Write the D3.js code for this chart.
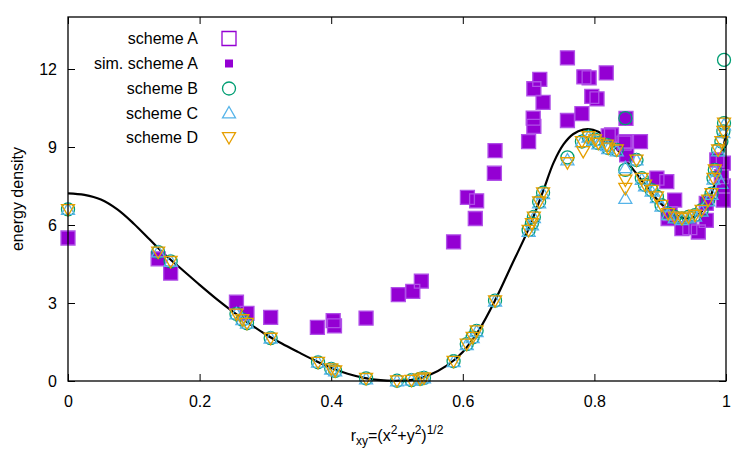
<!DOCTYPE html>
<html>
<head>
<meta charset="utf-8">
<script src="https://cdn.jsdelivr.net/npm/d3@7"></script>
<style>
  body { margin: 0; background: #fff; }
  svg { display: block; }
  text { font-family: "Liberation Sans", Arial, sans-serif; fill: #000; }
</style>
</head>
<body>
<svg id="chart" width="750" height="450"></svg>
<script>
// reference curve
var curveX = [0, 0.025, 0.05, 0.075, 0.1, 0.125, 0.15, 0.175, 0.2, 0.225, 0.25, 0.275, 0.3, 0.325, 0.35,
    0.375, 0.4, 0.425, 0.45, 0.475, 0.5, 0.525, 0.55, 0.575, 0.6, 0.625, 0.65, 0.675, 0.7, 0.722, 0.738,
    0.753, 0.768, 0.783, 0.798, 0.814, 0.829, 0.841, 0.86, 0.88, 0.9, 0.92, 0.94, 0.96, 0.975, 0.99, 1.0];
var curveY = [7.22, 7.16, 6.98, 6.6, 6.05, 5.42, 4.8, 4.25, 3.7, 3.17, 2.68, 2.22, 1.8, 1.44, 1.11,
    0.79, 0.5, 0.28, 0.12, 0.03, 0.01, 0.05, 0.24, 0.58, 1.12, 1.98, 3.15, 4.5, 5.85, 7.3, 8.4,
    9.1, 9.5, 9.67, 9.66, 9.47, 9.08, 8.7, 8.1, 7.45, 6.85, 6.45, 6.25, 6.45, 7.0, 8.3, 9.5];

var simSchemeA = [[0, 5.5], [0.137, 4.7], [0.156, 4.15], [0.256, 3.03], [0.272, 2.6], [0.308, 2.45],
    [0.379, 2.06], [0.403, 2.32], [0.405, 2.12], [0.453, 2.42], [0.502, 3.32], [0.524, 3.45], [0.537, 3.84],
    [0.586, 5.35], [0.607, 7.06], [0.619, 6.25], [0.621, 6.93], [0.648, 7.99], [0.649, 8.86], [0.7, 9.21],
    [0.707, 10.11], [0.708, 9.79], [0.708, 11.24], [0.717, 11.6], [0.722, 10.72], [0.759, 12.43], [0.759, 10.02],
    [0.781, 10.28], [0.784, 11.7], [0.792, 11.66], [0.796, 10.95], [0.804, 10.85], [0.818, 11.85], [0.821, 9.43],
    [0.826, 9.47], [0.845, 9.15], [0.847, 9.21], [0.848, 10.1], [0.849, 8.7], [0.87, 9.21], [0.895, 7.8],
    [0.91, 7.67], [0.912, 6.25], [0.915, 6.44], [0.922, 6.96], [0.933, 5.86], [0.945, 5.9], [0.958, 5.73],
    [0.97, 6.18], [0.97, 6.83], [0.986, 8.5], [0.993, 7.86], [0.996, 8.38], [0.996, 6.96], [0.996, 7.5]];

var schemeA = [[0, 5.5], [0.137, 4.7], [0.156, 4.15], [0.256, 3.03], [0.272, 2.6], [0.308, 2.45],
    [0.379, 2.06], [0.403, 2.32], [0.405, 2.12], [0.453, 2.42], [0.502, 3.32], [0.524, 3.45], [0.537, 3.84],
    [0.586, 5.35], [0.607, 7.06], [0.619, 6.25], [0.621, 6.93], [0.648, 7.99], [0.649, 8.86], [0.7, 9.21],
    [0.707, 10.11], [0.708, 9.79], [0.708, 11.24], [0.717, 11.6], [0.722, 10.72], [0.759, 12.43], [0.759, 10.02],
    [0.781, 10.28], [0.784, 11.7], [0.792, 11.66], [0.796, 10.95], [0.804, 10.85], [0.818, 11.85], [0.821, 9.43],
    [0.826, 9.47], [0.845, 9.15], [0.847, 9.21], [0.848, 10.1], [0.849, 8.7], [0.87, 9.21], [0.895, 7.8],
    [0.91, 7.67], [0.912, 6.25], [0.915, 6.44], [0.922, 6.96], [0.933, 5.86], [0.945, 5.9], [0.958, 5.73],
    [0.97, 6.18], [0.97, 6.83], [0.986, 8.5], [0.993, 7.86], [0.996, 8.38], [0.996, 6.96], [0.996, 7.5]];

var schemeB = [[0, 6.6], [0.137, 4.96], [0.156, 4.6], [0.256, 2.58], [0.265, 2.36], [0.272, 2.22], [0.308, 1.65],
    [0.38, 0.72], [0.4, 0.47], [0.406, 0.39], [0.453, 0.1], [0.5, 0.01], [0.522, 0.03], [0.535, 0.08], [0.541, 0.12],
    [0.586, 0.76], [0.606, 1.42], [0.615, 1.68], [0.621, 1.93], [0.649, 3.09], [0.7, 5.8], [0.705, 6.06],
    [0.708, 6.31], [0.716, 6.89], [0.722, 7.24], [0.759, 8.6], [0.781, 9.21], [0.791, 9.4], [0.801, 9.28],
    [0.806, 9.15], [0.819, 9.08], [0.821, 8.96], [0.834, 8.89], [0.847, 10.11], [0.847, 8.12], [0.864, 8.5],
    [0.872, 7.8], [0.877, 7.54], [0.887, 7.34], [0.895, 7.09], [0.902, 6.76], [0.912, 6.44], [0.922, 6.31],
    [0.933, 6.25], [0.943, 6.31], [0.953, 6.38], [0.963, 6.57], [0.973, 6.96], [0.978, 7.21], [0.981, 7.8],
    [0.983, 8.12], [0.988, 8.89], [0.993, 9.21], [0.996, 9.6], [0.997, 9.92], [0.997, 12.35]];

var schemeC = [[0, 6.6], [0.137, 4.96], [0.156, 4.6], [0.256, 2.58], [0.265, 2.36], [0.272, 2.22], [0.308, 1.65],
    [0.38, 0.72], [0.4, 0.45], [0.406, 0.39], [0.453, 0.08], [0.5, 0.0], [0.522, 0.03], [0.535, 0.08], [0.541, 0.12],
    [0.586, 0.74], [0.606, 1.4], [0.615, 1.66], [0.621, 1.9], [0.649, 3.07], [0.7, 5.75], [0.705, 6.0],
    [0.708, 6.28], [0.716, 6.85], [0.722, 7.2], [0.759, 8.5], [0.781, 9.2], [0.791, 9.38], [0.801, 9.25],
    [0.806, 9.12], [0.819, 9.05], [0.821, 8.93], [0.834, 8.85], [0.847, 7.02], [0.847, 8.2], [0.864, 8.5],
    [0.872, 7.75], [0.877, 7.5], [0.887, 7.3], [0.895, 7.05], [0.902, 6.72], [0.912, 6.4], [0.922, 6.27],
    [0.933, 6.2], [0.943, 6.27], [0.953, 6.34], [0.963, 6.53], [0.973, 6.92], [0.978, 7.17], [0.981, 7.76],
    [0.983, 8.08], [0.988, 8.85], [0.993, 7.6], [0.996, 9.55], [0.997, 9.85]];

var schemeD = [[0, 6.6], [0.137, 4.96], [0.156, 4.6], [0.256, 2.58], [0.265, 2.36], [0.272, 2.22], [0.308, 1.65],
    [0.38, 0.72], [0.4, 0.47], [0.406, 0.39], [0.453, 0.1], [0.5, 0.01], [0.522, 0.03], [0.535, 0.08], [0.541, 0.12],
    [0.586, 0.76], [0.606, 1.42], [0.615, 1.68], [0.621, 1.93], [0.649, 3.09], [0.7, 5.8], [0.705, 6.06],
    [0.708, 6.31], [0.716, 6.89], [0.722, 7.24], [0.759, 8.4], [0.781, 9.21], [0.783, 8.83], [0.791, 9.4],
    [0.801, 9.28], [0.806, 9.15], [0.819, 9.08], [0.821, 8.96], [0.834, 8.89], [0.847, 7.41], [0.847, 7.73],
    [0.864, 8.5], [0.872, 7.8], [0.877, 7.54], [0.887, 7.34], [0.895, 7.09], [0.902, 6.76], [0.912, 6.44],
    [0.922, 6.31], [0.933, 6.25], [0.943, 6.31], [0.953, 6.38], [0.963, 6.57], [0.973, 6.96], [0.978, 7.21],
    [0.981, 7.8], [0.983, 8.12], [0.988, 8.89], [0.993, 9.21], [0.996, 9.6], [0.997, 9.92]];

var xTicks = [0, 0.2, 0.4, 0.6, 0.8, 1];
var yTicks = [0, 3, 6, 9, 12];
var legendLabels = ["scheme A", "sim. scheme A", "scheme B", "scheme C", "scheme D"];

var purple = "#9400d3", green = "#009e73", blue = "#56b4e9", orange = "#e69f00";

var margin = { top: 17, right: 24, bottom: 69, left: 68 },
    width = 750 - margin.left - margin.right,
    height = 450 - margin.top - margin.bottom;

var svg = d3.select("#chart");
var g = svg.append("g").attr("transform", "translate(" + margin.left + "," + margin.top + ")");

var x = d3.scaleLinear().domain([0, 1]).range([0, width]);
var y = d3.scaleLinear().domain([0, 14]).range([height, 0]);

// marker shapes
function squarePath(s) {
    var h = s / 2;
    return "M" + (-h) + "," + (-h) + "H" + h + "V" + h + "H" + (-h) + "Z";
}
function triUp(s) {
    var h = s / 2;
    return "M0," + (-h) + "L" + h + "," + (h * 0.75) + "L" + (-h) + "," + (h * 0.75) + "Z";
}
function triDown(s) {
    var h = s / 2;
    return "M0," + h + "L" + h + "," + (-h * 0.75) + "L" + (-h) + "," + (-h * 0.75) + "Z";
}
function circlePath(s) {
    var r = s / 2;
    return "M" + r + ",0A" + r + "," + r + " 0 1,1 " + (-r) + ",0A" + r + "," + r + " 0 1,1 " + r + ",0Z";
}

// axes, gnuplot style: inward ticks on all four sides
var tickLen = 7;
g.append("g")
    .attr("transform", "translate(0," + height + ")")
    .call(d3.axisBottom(x).tickValues(xTicks).tickSize(-tickLen).tickPadding(15)
        .tickFormat(function(d) { return d === 0 || d === 1 ? d : d3.format(".1f")(d); }))
    .call(function(a) { a.select(".domain").remove(); a.selectAll("text").style("font-size", "16px"); });
g.append("g")
    .call(d3.axisTop(x).tickValues(xTicks).tickSize(-tickLen).tickFormat(""))
    .call(function(a) { a.select(".domain").remove(); });
g.append("g")
    .call(d3.axisLeft(y).tickValues(yTicks).tickSize(-tickLen).tickPadding(11))
    .call(function(a) { a.select(".domain").remove(); a.selectAll("text").style("font-size", "16px"); });
g.append("g")
    .attr("transform", "translate(" + width + ",0)")
    .call(d3.axisRight(y).tickValues(yTicks).tickSize(-tickLen).tickFormat(""))
    .call(function(a) { a.select(".domain").remove(); });
g.selectAll(".tick line").attr("stroke", "#000").attr("stroke-width", 1);

// curve
var line = d3.line()
    .x(function(d) { return x(d[0]); })
    .y(function(d) { return y(d[1]); })
    .curve(d3.curveCatmullRom);
g.append("path")
    .datum(curveX.map(function(v, i) { return [v, curveY[i]]; }))
    .attr("fill", "none")
    .attr("stroke", "#000")
    .attr("stroke-width", 2.2)
    .attr("d", line);

function plotPoints(data, pathFn, size, fill, stroke) {
    g.append("g").selectAll("path")
        .data(data)
        .enter()
        .append("path")
        .attr("transform", function(d) { return "translate(" + x(d[0]) + "," + y(d[1]) + ")"; })
        .attr("d", pathFn(size))
        .attr("fill", fill)
        .attr("stroke", stroke)
        .attr("stroke-width", 1.3);
}

plotPoints(simSchemeA, squarePath, 14, purple, "none");
plotPoints(schemeA, squarePath, 14, "none", "#b050e8");
plotPoints(schemeB, circlePath, 13, "none", green);
plotPoints(schemeC, triUp, 13, "none", blue);
plotPoints(schemeD, triDown, 13, "none", orange);

// frame
g.append("rect")
    .attr("width", width).attr("height", height)
    .attr("fill", "none").attr("stroke", "#000").attr("stroke-width", 1.3);

// legend
var legendY = [38.5, 63.5, 88.5, 113, 137.5];
var legendSym = [
    { fn: squarePath, size: 14, fill: "none", stroke: purple },
    { fn: squarePath, size: 8, fill: purple, stroke: "none" },
    { fn: circlePath, size: 13, fill: "none", stroke: green },
    { fn: triUp, size: 13, fill: "none", stroke: blue },
    { fn: triDown, size: 13, fill: "none", stroke: orange }
];
var legend = svg.append("g");
legendLabels.forEach(function(lbl, i) {
    legend.append("text")
        .attr("x", 198).attr("y", legendY[i]).attr("dy", "0.35em")
        .attr("text-anchor", "end").style("font-size", "16px")
        .text(lbl);
    legend.append("path")
        .attr("transform", "translate(229," + legendY[i] + ")")
        .attr("d", legendSym[i].fn(legendSym[i].size))
        .attr("fill", legendSym[i].fill)
        .attr("stroke", legendSym[i].stroke)
        .attr("stroke-width", 1.3);
});

// axis titles
svg.append("text")
    .attr("transform", "translate(23," + (margin.top + height / 2) + ") rotate(-90)")
    .attr("text-anchor", "middle").style("font-size", "16px")
    .text("energy density");

var xt = svg.append("text")
    .attr("x", margin.left + width / 2).attr("y", 441)
    .attr("text-anchor", "middle").style("font-size", "16px");
xt.append("tspan").text("r");
xt.append("tspan").attr("dy", 4).style("font-size", "12px").text("xy");
xt.append("tspan").attr("dy", -4).text("=(x");
xt.append("tspan").attr("dy", -7).style("font-size", "12px").text("2");
xt.append("tspan").attr("dy", 7).text("+y");
xt.append("tspan").attr("dy", -7).style("font-size", "12px").text("2");
xt.append("tspan").attr("dy", 7).text(")");
xt.append("tspan").attr("dy", -7).style("font-size", "12px").text("1/2");
</script>
</body>
</html>
